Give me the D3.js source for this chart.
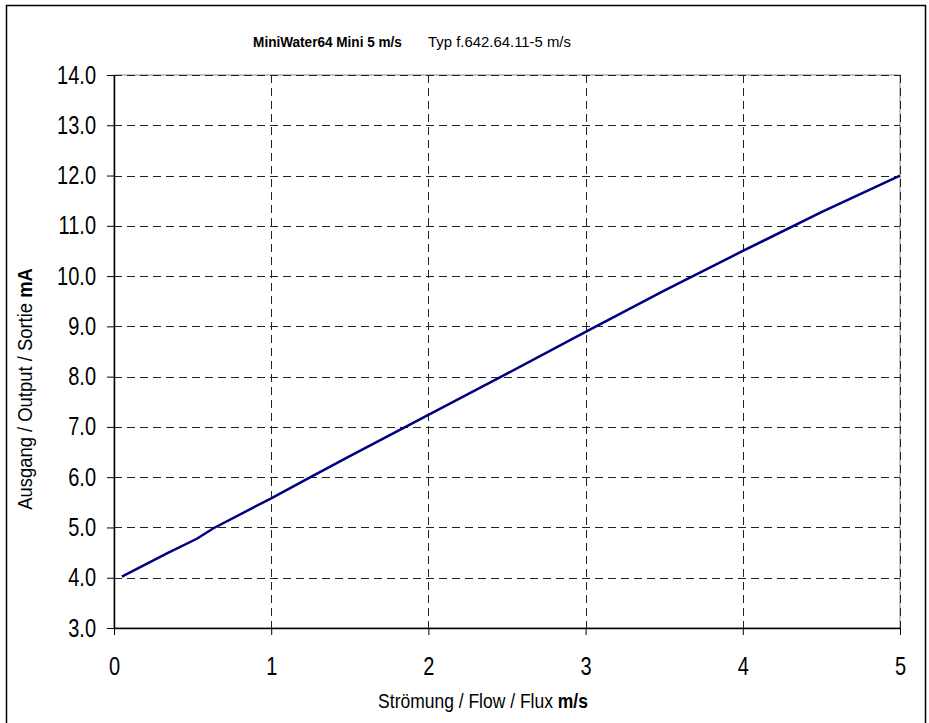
<!DOCTYPE html>
<html>
<head>
<meta charset="utf-8">
<script src="https://cdn.jsdelivr.net/npm/d3@7"></script>
<style>
  body { margin: 0; background: #fff; }
  svg { display: block; font-family: "Liberation Sans", Arial, sans-serif; }
</style>
</head>
<body>
<script>
const width = 929;
const height = 723;

// flow in m/s
const flow = [0.05, 0.34, 0.53, 0.63, 1.0, 1.25, 1.5, 2.0, 2.5, 3.0, 3.5, 4.0, 4.5, 5.0];
// output in mA
const output = [4.02, 4.49, 4.78, 4.98, 5.58, 6.0, 6.42, 7.24, 8.06, 8.89, 9.71, 10.5, 11.27, 12.0];

const xTicks = [0, 1, 2, 3, 4, 5];
const yTicks = [3, 4, 5, 6, 7, 8, 9, 10, 11, 12, 13, 14];

const margin = { top: 75, right: 29, bottom: 95, left: 114 };
const w = width - margin.left - margin.right;
const h = height - margin.top - margin.bottom;

// Arial Narrow is not installed, so squeeze Liberation Sans a bit
const narrow = 0.8;

const svg = d3.select('body').append('svg')
  .attr('width', width)
  .attr('height', height);

// outer frame
svg.append('rect')
  .attr('x', 6.5).attr('y', 5.5)
  .attr('width', 919).attr('height', 730)
  .attr('fill', 'none')
  .attr('stroke', '#000')
  .attr('stroke-width', 1.5);

const x = d3.scaleLinear().domain([0, 5]).range([0, w]);
const y = d3.scaleLinear().domain([3, 14]).range([h, 0]);

const g = svg.append('g').attr('transform', `translate(${margin.left},${margin.top})`);

// plot border (grey)
g.append('rect')
  .attr('x', 0).attr('y', 0).attr('width', w).attr('height', h)
  .attr('fill', 'none').attr('stroke', '#8c8c8c').attr('stroke-width', 1);

// gridlines
g.append('g').selectAll('line').data(yTicks.slice(1))
  .join('line')
  .attr('x1', 0).attr('x2', w)
  .attr('y1', d => Math.round(y(d)) + 0.5).attr('y2', d => Math.round(y(d)) + 0.5)
  .attr('stroke', '#222').attr('stroke-dasharray', '8,5');

g.append('g').selectAll('line').data(xTicks.slice(1))
  .join('line')
  .attr('y1', 0).attr('y2', h)
  .attr('x1', d => Math.round(x(d)) + 0.5).attr('x2', d => Math.round(x(d)) + 0.5)
  .attr('stroke', '#222').attr('stroke-dasharray', '8,5');

// axes
const xAxis = g.append('g')
  .attr('transform', `translate(0,${h})`)
  .call(d3.axisBottom(x).tickValues(xTicks).tickFormat(d3.format('d')).tickSize(7).tickPadding(22).tickSizeOuter(0));
const yAxis = g.append('g')
  .call(d3.axisLeft(y).tickValues(yTicks).tickFormat(d3.format('.1f')).tickSize(7).tickPadding(11).tickSizeOuter(0));

[xAxis, yAxis].forEach(a => {
  a.select('.domain').attr('stroke', '#000').attr('stroke-width', 1.5);
  a.selectAll('.tick line').attr('stroke', '#000');
  a.selectAll('.tick text')
    .attr('font-size', 25)
    .attr('fill', '#000')
    .attr('transform', `scale(${narrow},1)`);
});
yAxis.selectAll('.tick text').attr('x', -18 / narrow);

// data line
const line = d3.line()
  .x((d, i) => x(flow[i]))
  .y(d => y(d));

g.append('path')
  .datum(output)
  .attr('d', line)
  .attr('fill', 'none')
  .attr('stroke', '#000080')
  .attr('stroke-width', 2.5);

// text squeezed to a target width
function label(parent, parts, size, cx, cy, targetW, rotate) {
  const outer = parent.append('g');
  const t = outer.append('text')
    .attr('text-anchor', 'middle')
    .attr('font-size', size);
  parts.forEach(p => t.append('tspan').attr('font-weight', p[1] ? 'bold' : null).text(p[0]));
  const s = targetW / t.node().getComputedTextLength();
  outer.attr('transform', `translate(${cx},${cy})` + (rotate ? ' rotate(-90)' : '') + ` scale(${s},1)`);
}

// title
label(svg, [['MiniWater64 Mini 5 m/s', true]], 15, 327.5, 47, 149);
label(svg, [['Typ f.642.64.11-5 m/s', false]], 15, 499.5, 47, 143);

// axis titles
label(svg, [['Strömung / Flow / Flux ', false], ['m/s', true]], 20, 483, 708, 210);
label(svg, [['Ausgang / Output / Sortie ', false], ['mA', true]], 20, 32, 389, 242, true);
</script>
</body>
</html>
